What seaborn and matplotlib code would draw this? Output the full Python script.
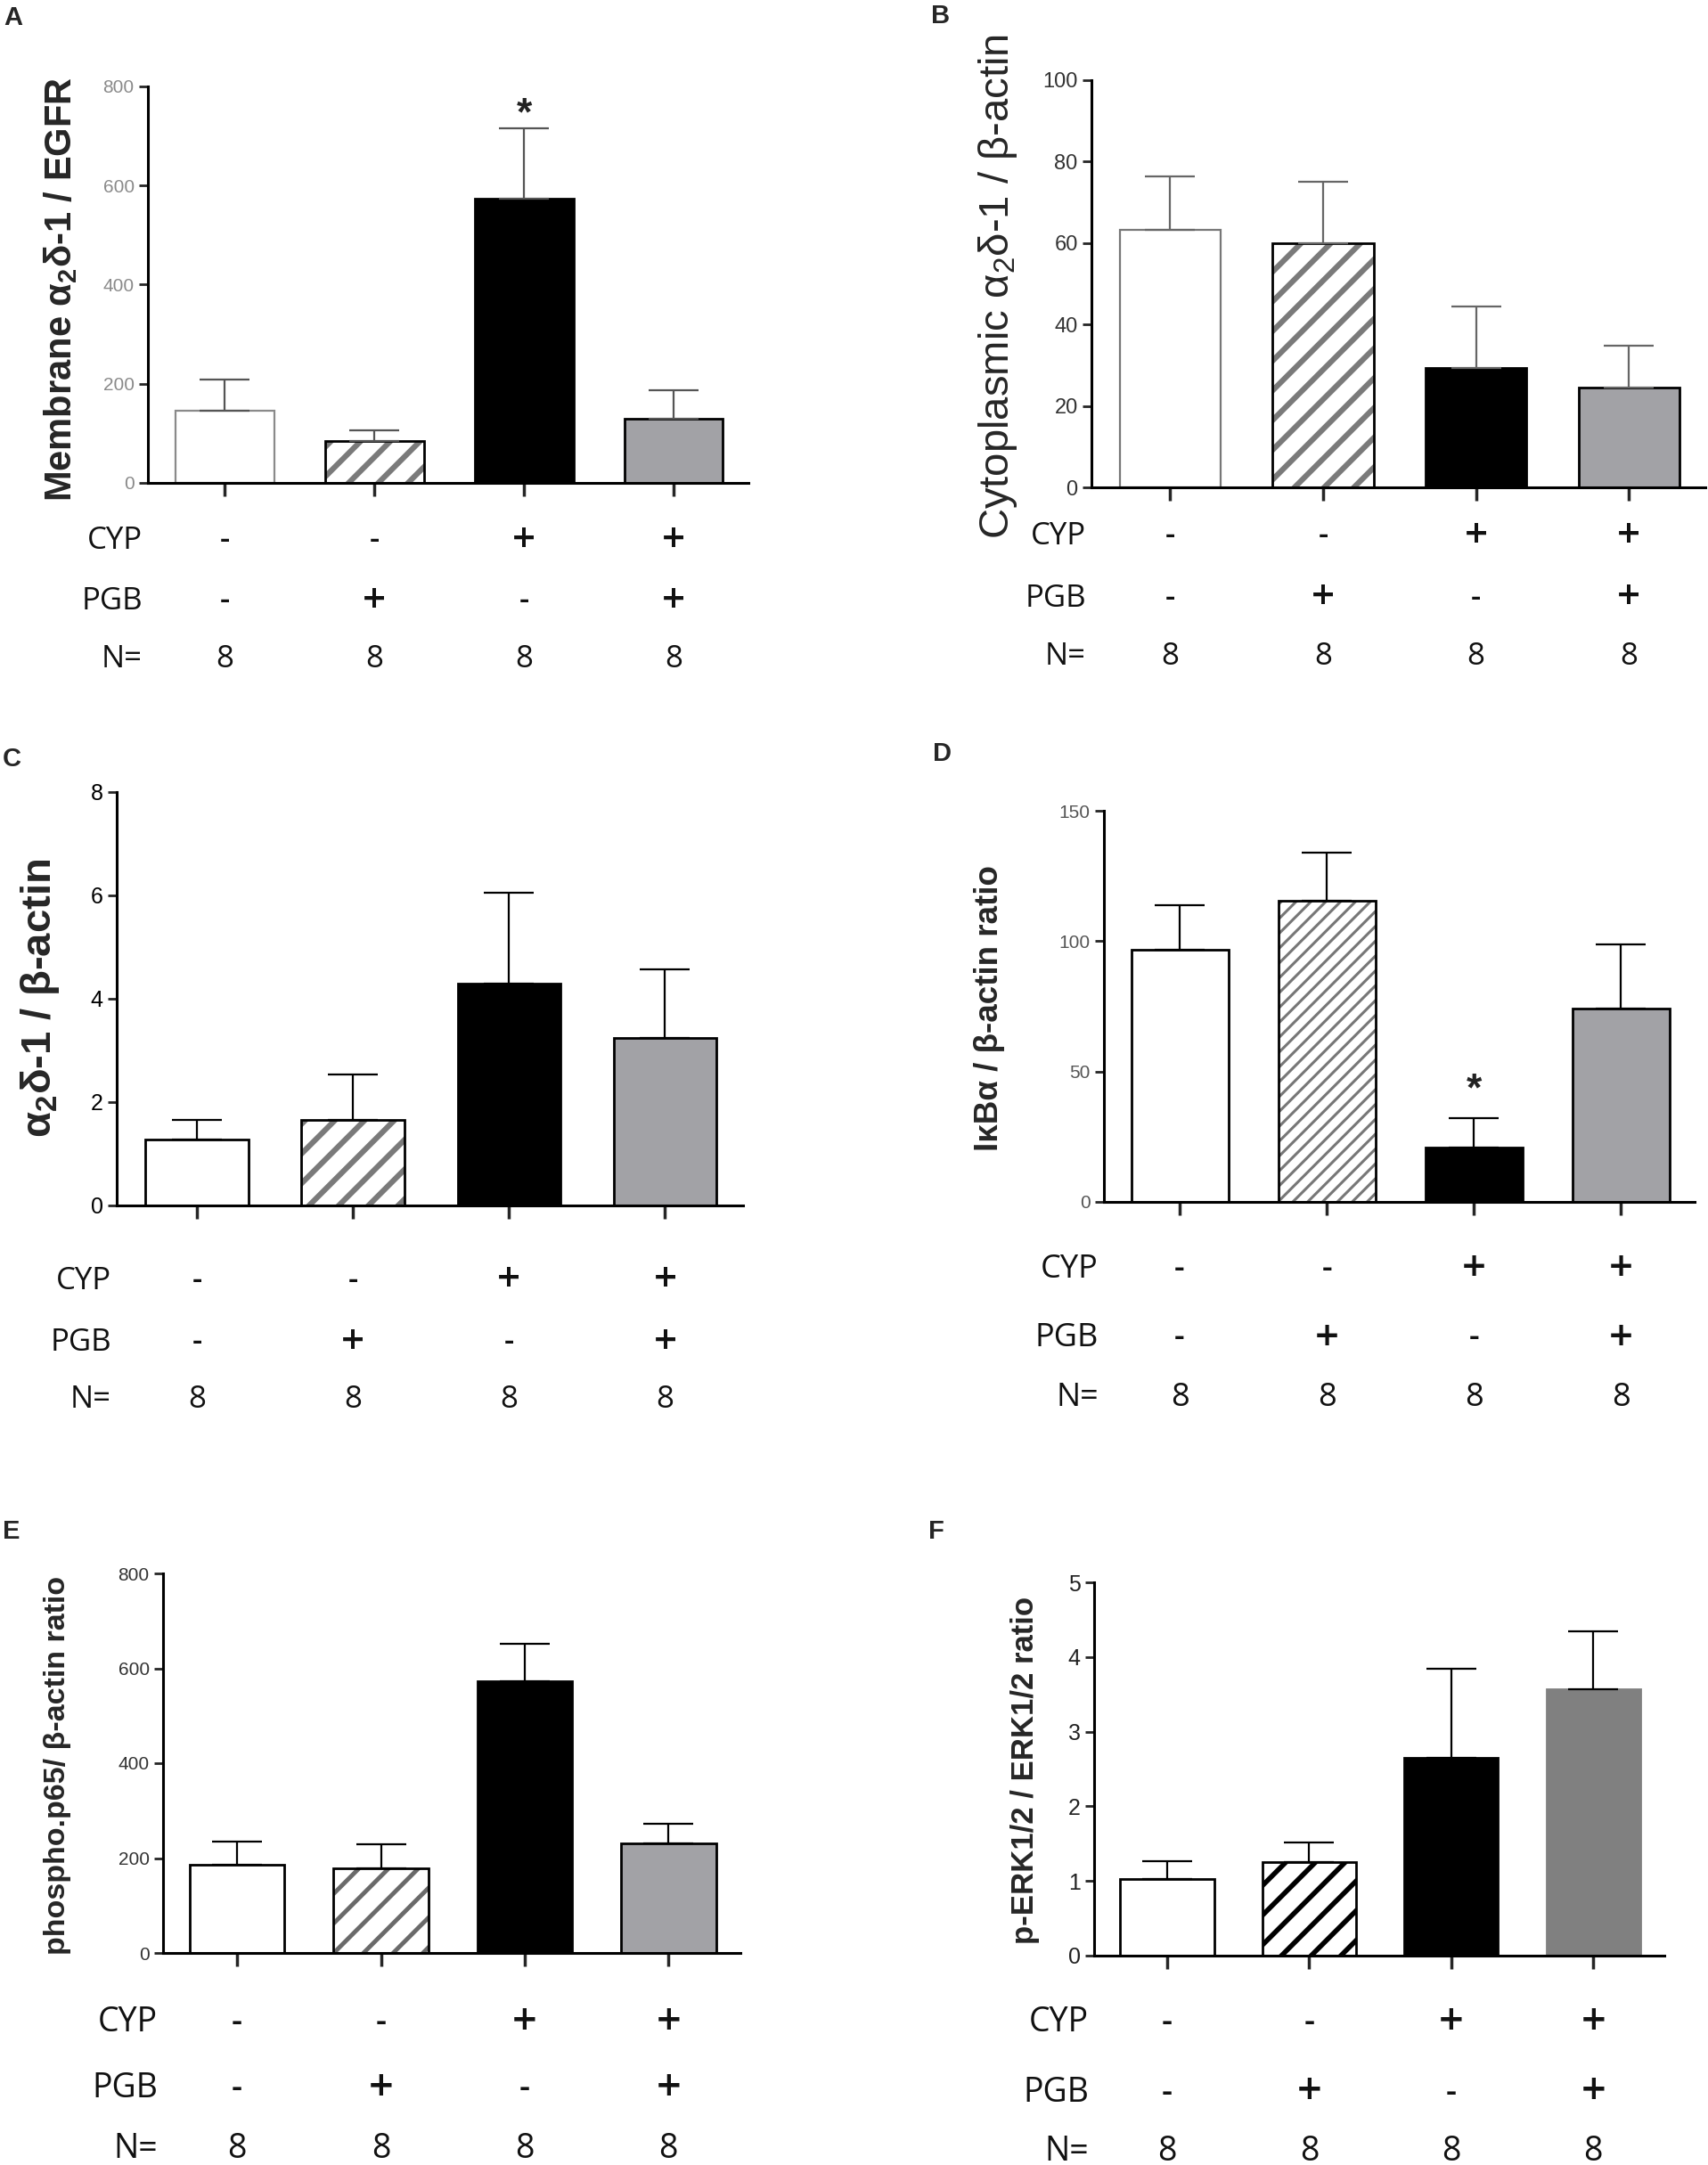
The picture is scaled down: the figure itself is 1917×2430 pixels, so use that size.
import numpy as np
import pandas as pd
import matplotlib
matplotlib.use("Agg")
import matplotlib.pyplot as plt
from matplotlib.transforms import blended_transform_factory
import seaborn as sns

# groups and the condition rows printed under each panel
groups = ["CON", "PGB", "CYP", "CYP+PGB"]
cyp_row = ["-", "-", "+", "+"]
pgb_row = ["-", "+", "-", "+"]
n_row = ["8", "8", "8", "8"]

# values (mean and upper error)
a_mean = [146, 85, 573, 130]
a_err = [62, 21, 142, 57]
b_mean = [63.2, 59.9, 29.3, 24.6]
b_err = [13.1, 15.2, 15.2, 10.2]
c_mean = [1.28, 1.65, 4.30, 3.25]
c_err = [0.38, 0.89, 1.75, 1.32]
d_mean = [96.6, 115.5, 20.8, 74.0]
d_err = [17.2, 18.5, 11.4, 24.9]
e_mean = [185, 179, 572, 231]
e_err = [50, 51, 79, 41]
f_mean = [1.03, 1.25, 2.65, 3.57]
f_err = [0.23, 0.27, 1.19, 0.77]

W, H = 1917, 2430

sns.set_style("ticks")
plt.rcParams["font.family"] = ["Liberation Sans", "DejaVu Sans"]
plt.rcParams["mathtext.fontset"] = "custom"
plt.rcParams["mathtext.rm"] = "Liberation Sans"
plt.rcParams["mathtext.bf"] = "Liberation Sans:bold"
plt.rcParams["hatch.linewidth"] = 4.0

fig = plt.figure(figsize=(W / 100, H / 100), dpi=100)

# panel layout in pixels: left, right, top, zero line; rows; y label centre
panels = [
    dict(letter="A", lpos=(4, 6), mean=a_mean, err=a_err, ymax=800, ticks=[0, 200, 400, 600, 800],
         box=(166, 840, 97, 542), rows=(607, 675, 740), rowsize=25,
         ylabel=r"Membrane α$_{\mathbf{2}}$δ-1 / EGFR", ylpos=(68, 325), ylsize=30, ylweight="bold",
         tickcol="#8a8a8a", ticksize=15, whiteedge="#8a8a8a", ecol="#555555",
         hatch="/", hatchlw=4.5, hatchcol="#7a7a7a", gray="#a2a2a6", grayedge="black", star=761),
    dict(letter="B", lpos=(1045, 4), mean=b_mean, err=b_err, ymax=100, ticks=[0, 20, 40, 60, 80, 100],
         box=(1225, 1914, 90, 547), rows=(602, 672, 737), rowsize=25,
         ylabel=r"Cytoplasmic α$_{2}$δ-1 / β-actin", ylpos=(1120, 321), ylsize=34, ylweight="normal",
         tickcol="#333333", ticksize=17, whiteedge="#777777", ecol="#666666",
         hatch="/", hatchlw=4.5, hatchcol="#7a7a7a", gray="#a2a2a6", grayedge="black", star=None),
    dict(letter="C", lpos=(3, 838), mean=c_mean, err=c_err, ymax=8, ticks=[0, 2, 4, 6, 8],
         box=(131, 834, 889, 1353), rows=(1438, 1507, 1571), rowsize=25,
         ylabel=r"α$_{\mathbf{2}}$δ-1 / β-actin", ylpos=(45, 1120), ylsize=34, ylweight="bold",
         tickcol="black", ticksize=18, whiteedge="black", ecol="black",
         hatch="/", hatchlw=4.5, hatchcol="#7a7a7a", gray="#a2a2a6", grayedge="black", star=None),
    dict(letter="D", lpos=(1047, 832), mean=d_mean, err=d_err, ymax=150, ticks=[0, 50, 100, 150],
         box=(1239, 1902, 910, 1349), rows=(1425, 1502, 1569), rowsize=26,
         ylabel="IκBα / β-actin ratio", ylpos=(1110, 1132), ylsize=26.5, ylweight="bold",
         tickcol="#555555", ticksize=15, whiteedge="black", ecol="black",
         hatch="//", hatchlw=2.2, hatchcol="#777777", gray="#a2a2a6", grayedge="black", star=46),
    dict(letter="E", lpos=(3, 1705), mean=e_mean, err=e_err, ymax=800, ticks=[0, 200, 400, 600, 800],
         box=(183, 831, 1766, 2192), rows=(2270, 2344, 2412), rowsize=27,
         ylabel="phospho.p65/ β-actin ratio", ylpos=(65, 1981), ylsize=24.5, ylweight="bold",
         tickcol="#333333", ticksize=15, whiteedge="black", ecol="black",
         hatch="/", hatchlw=3.5, hatchcol="#6a6a6a", gray="#a2a2a6", grayedge="black", star=None),
    dict(letter="F", lpos=(1042, 1705), mean=f_mean, err=f_err, ymax=5, ticks=[0, 1, 2, 3, 4, 5],
         box=(1228, 1868, 1776, 2195), rows=(2270, 2349, 2415), rowsize=27,
         ylabel="p-ERK1/2 / ERK1/2 ratio", ylpos=(1150, 1987), ylsize=25, ylweight="bold",
         tickcol="#222222", ticksize=18, whiteedge="black", ecol="black",
         hatch="/", hatchlw=4.0, hatchcol="black", gray="#808080", grayedge="#808080", star=None),
]

for p in panels:
    left, right, top, zero = p["box"]
    ax = fig.add_axes([left / W, 1 - zero / H, (right - left) / W, (zero - top) / H])
    df = pd.DataFrame({"group": groups, "value": p["mean"]})
    sns.barplot(data=df, x="group", y="value", hue="group", legend=False,
                palette=["white", "white", "black", p["gray"]], saturation=1,
                width=0.66, edgecolor="black", linewidth=2, errorbar=None, ax=ax)
    bars = ax.patches[:4]
    bars[0].set_edgecolor(p["whiteedge"])
    bars[0].set_linewidth(1.6 if p["whiteedge"] != "black" else 2)
    bars[3].set_edgecolor(p["grayedge"])
    hb = bars[1]
    hb.set_hatch(p["hatch"])
    if hasattr(hb, "set_hatch_linewidth"):
        hb.set_hatch_linewidth(p["hatchlw"])
    hb.set_edgecolor(p["hatchcol"])
    hb.set_linewidth(0)
    ax.bar(hb.get_x() + hb.get_width() / 2, hb.get_height(), width=hb.get_width(),
           fill=False, edgecolor="black", linewidth=2, zorder=3)
    ax.errorbar(range(4), p["mean"], yerr=[np.zeros(4), p["err"]], fmt="none",
                ecolor=p["ecol"], elinewidth=1.6, capsize=20, capthick=1.6, zorder=4)
    if p["star"] is not None:
        ax.annotate("*", (2, p["star"]), xytext=(0, -7), textcoords="offset points",
                    ha="center", va="center", fontsize=32, fontweight="bold",
                    color="#222222", zorder=5)

    ax.set_xlim(-0.515, 3.5)
    ax.set_ylim(0, p["ymax"])
    ax.set_yticks(p["ticks"])
    ax.set_xticks(range(4))
    ax.set_xticklabels([])
    ax.set_xlabel("")
    ax.set_ylabel("")
    sns.despine(ax=ax)
    for s in ["left", "bottom"]:
        ax.spines[s].set_linewidth(2.2)
        ax.spines[s].set_color("black")
    ax.spines["left"].set_bounds(0, p["ymax"])
    ax.tick_params(axis="y", direction="out", length=7, width=2, labelsize=p["ticksize"],
                   labelcolor=p["tickcol"], pad=4)
    ax.tick_params(axis="x", direction="out", length=11, width=2.5)
    ax.set_facecolor("none")

    # condition rows under the bars
    trans = blended_transform_factory(ax.transData, fig.transFigure)
    for name, row, y in zip(["CYP", "PGB", "N="], [cyp_row, pgb_row, n_row], p["rows"]):
        fig.text((left - 6) / W, 1 - y / H, name, ha="right", va="center",
                 fontsize=p["rowsize"], family="Open Sans", color="#111111")
        for i, sym in enumerate(row):
            big = sym == "+"
            ax.text(i, 1 - y / H, sym, transform=trans, ha="center", va="center",
                    fontsize=p["rowsize"] + (8 if big else 0), family="Open Sans",
                    fontweight="semibold" if sym in "+-" else "normal",
                    color="#111111", clip_on=False)

    fig.text(p["ylpos"][0] / W, 1 - p["ylpos"][1] / H, p["ylabel"], rotation=90,
             ha="center", va="center", fontsize=p["ylsize"], fontweight=p["ylweight"])
    fig.text(p["lpos"][0] / W, 1 - p["lpos"][1] / H, p["letter"], ha="left", va="top",
             fontsize=21, fontweight="bold")

fig.savefig("out.png", dpi=100, facecolor="white")
